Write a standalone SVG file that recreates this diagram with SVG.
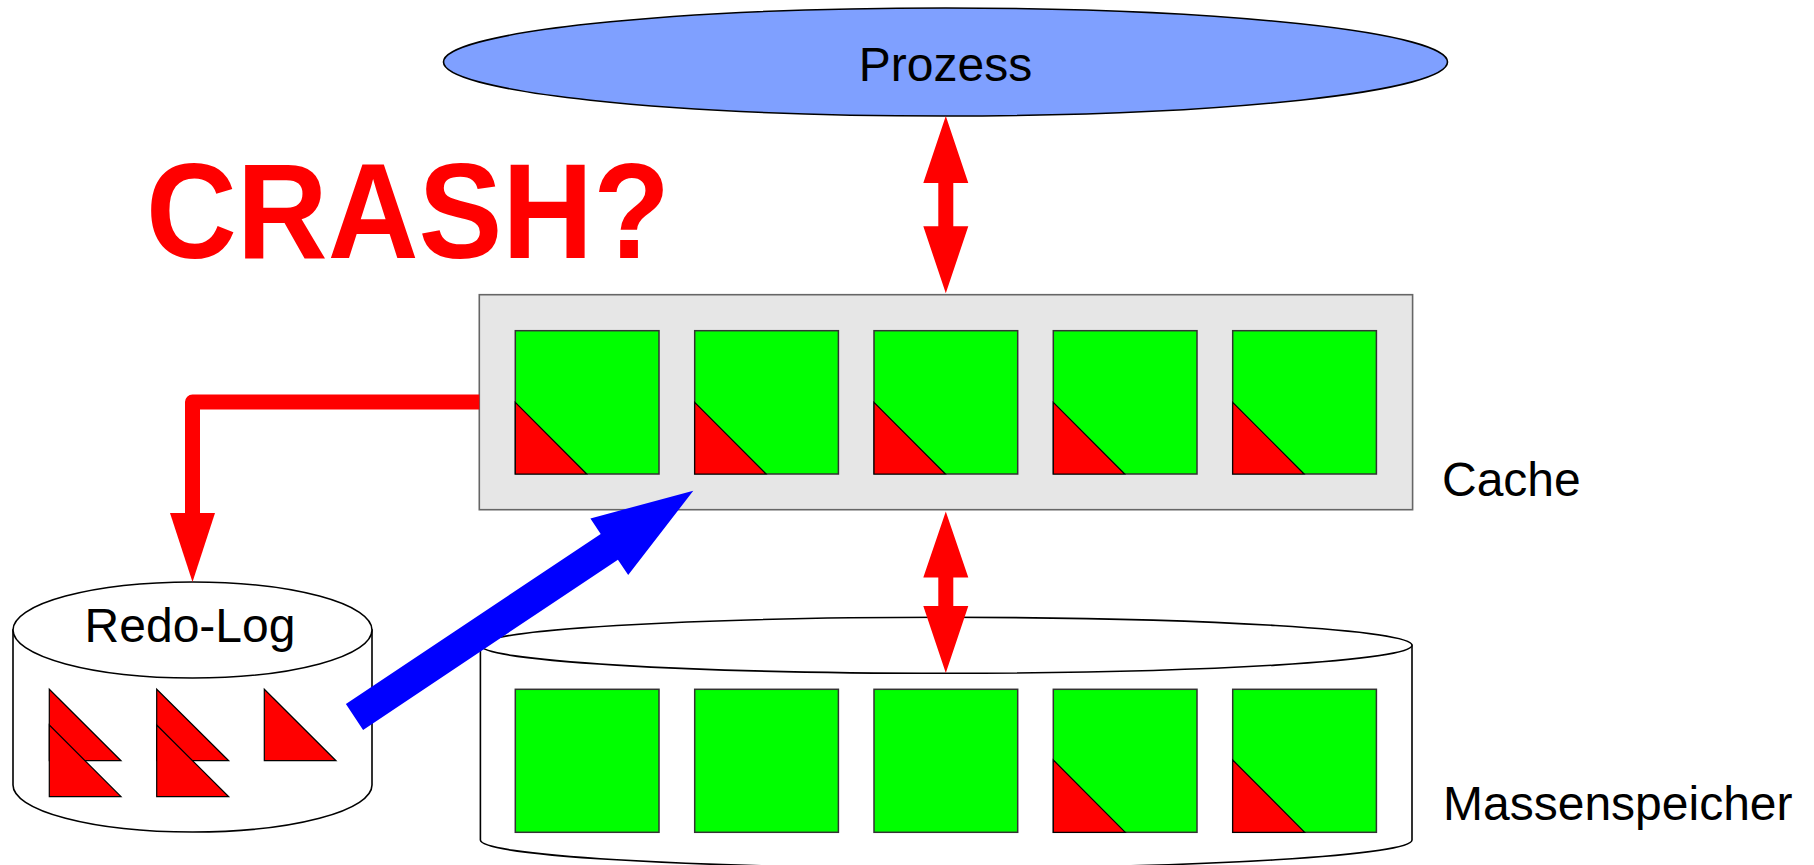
<svg xmlns="http://www.w3.org/2000/svg" width="1814" height="865" viewBox="0 0 1814 865">
<style>
.lbl{font-family:"Liberation Sans",Arial,sans-serif;font-size:48px;fill:#000}
.sq{fill:#00ff00;stroke:#333;stroke-width:1.5}
.tri{fill:#ff0000;stroke:#000;stroke-width:1.2;stroke-linejoin:miter}
.cyl{fill:#fff;stroke:#000;stroke-width:1.6}
.red{fill:#ff0000}
</style>
<rect width="1814" height="865" fill="#fff"/>

<g id="prozess">
<ellipse cx="945.5" cy="62" rx="502" ry="54" fill="#7fa0ff" stroke="#000" stroke-width="1.6"/>
<text class="lbl" x="945.5" y="81" text-anchor="middle">Prozess</text>
</g>

<g id="crash">
<text x="146" y="258" font-family="Liberation Sans, Arial, sans-serif" font-weight="bold" font-size="136" fill="#ff0000" textLength="524" lengthAdjust="spacingAndGlyphs">CRASH?</text>
</g>

<g id="cache">
<rect x="479.3" y="294.7" width="933.3" height="215" fill="#e6e6e6" stroke="#666" stroke-width="1.6"/>
<g id="cache-blocks">
<rect class="sq" x="515.3" y="330.7" width="143.7" height="143.3"/>
<path class="tri" d="M515.3 402.3 L586.7 474 L515.3 474 Z"/>
<rect class="sq" x="694.7" y="330.7" width="143.7" height="143.3"/>
<path class="tri" d="M694.7 402.3 L766.1 474 L694.7 474 Z"/>
<rect class="sq" x="874" y="330.7" width="143.7" height="143.3"/>
<path class="tri" d="M874 402.3 L945.4 474 L874 474 Z"/>
<rect class="sq" x="1053.3" y="330.7" width="143.7" height="143.3"/>
<path class="tri" d="M1053.3 402.3 L1124.7 474 L1053.3 474 Z"/>
<rect class="sq" x="1232.7" y="330.7" width="143.7" height="143.3"/>
<path class="tri" d="M1232.7 402.3 L1304.1 474 L1232.7 474 Z"/>
</g>
<text class="lbl" x="1442" y="496">Cache</text>
</g>

<g id="massenspeicher">
<path class="cyl" d="M480.4 645.3 L480.4 840 A465.8 28 0 0 0 1412 840 L1412 645.3 Z"/>
<ellipse class="cyl" cx="946.2" cy="645.3" rx="465.8" ry="28"/>
<rect class="sq" x="515.3" y="689.3" width="143.7" height="143"/>
<rect class="sq" x="694.7" y="689.3" width="143.7" height="143"/>
<rect class="sq" x="874" y="689.3" width="143.7" height="143"/>
<rect class="sq" x="1053.3" y="689.3" width="143.7" height="143"/>
<path class="tri" d="M1053.3 760 L1125.3 832.3 L1053.3 832.3 Z"/>
<rect class="sq" x="1232.7" y="689.3" width="143.7" height="143"/>
<path class="tri" d="M1232.7 760 L1304.7 832.3 L1232.7 832.3 Z"/>
<text class="lbl" x="1443" y="820">Massenspeicher</text>
</g>

<g id="redo-log">
<path class="cyl" d="M13 630 L13 785 A179.5 47 0 0 0 372 785 L372 630 Z"/>
<ellipse class="cyl" cx="192.5" cy="630" rx="179.5" ry="48"/>
<text class="lbl" x="190" y="642" text-anchor="middle">Redo-Log</text>
<path class="tri" d="M49.3 689.3 L121 760.7 L49.3 760.7 Z"/>
<path class="tri" d="M49.3 725 L121 796.7 L49.3 796.7 Z"/>
<path class="tri" d="M156.7 689.3 L228.7 760.7 L156.7 760.7 Z"/>
<path class="tri" d="M156.7 725 L228.7 796.7 L156.7 796.7 Z"/>
<path class="tri" d="M264.3 689.3 L336 760.7 L264.3 760.7 Z"/>
</g>

<g id="connectors">
<polygon class="red" points="945.8,116 968.3,183 953.3,183 953.3,226.3 968.3,226.3 945.8,293.3 923.3,226.3 938.3,226.3 938.3,183 923.3,183"/>
<polygon class="red" points="945.8,511.4 968.3,577.6 953.3,577.6 953.3,606 968.3,606 945.8,672.9 923.3,606 938.3,606 938.3,577.6 923.3,577.6"/>
<path d="M479.3 402 L192.5 402 L192.5 515" fill="none" stroke="#ff0000" stroke-width="15" stroke-linejoin="round"/>
<polygon class="red" points="170,513 215,513 192.5,582"/>
<polygon fill="#0000ff" points="345.9,704.1 600.7,533.9 590.4,518.5 693.3,490.7 628.2,575.1 617.9,559.7 363.1,729.9"/>
</g>
</svg>
